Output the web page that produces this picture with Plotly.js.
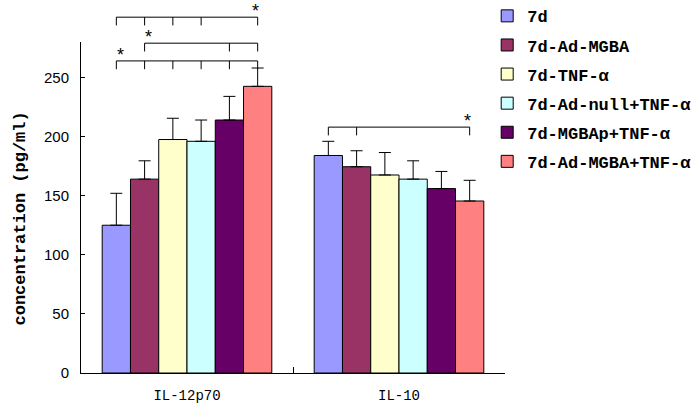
<!DOCTYPE html>
<html>
<head>
<meta charset="utf-8">
<script src="https://cdn.plot.ly/plotly-3.0.1.min.js"></script>
<style>html,body{margin:0;padding:0;background:#fff;}#chart{width:696px;height:406px;}</style>
</head>
<body>
<div id="chart"></div>
<script>
// ---- data ----
const categories = ["IL-12p70", "IL-10"];
const groups = ["7d", "7d-Ad-MGBA", "7d-TNF-α", "7d-Ad-null+TNF-α", "7d-MGBAp+TNF-α", "7d-Ad-MGBA+TNF-α"];
const colors = ["#9999FF", "#993366", "#FFFFCC", "#CCFFFF", "#660066", "#FF8080"];
// means per group: [IL-12p70, IL-10]
const means = [
  [125, 184],
  [164, 174.5],
  [197.5, 167.5],
  [196, 164],
  [214, 156],
  [242.5, 145.5]
];
// upper error (SD) per group
const errs = [
  [27, 12],
  [15.5, 13.5],
  [18, 19],
  [18, 15.5],
  [20, 14.5],
  [15.5, 17.5]
];
// significance brackets: category index, bar indices with ticks, level (data units), star side
const brackets = [
  {cat: 0, bars: [0, 1, 2, 3, 5], level: 301, star: "right"},
  {cat: 0, bars: [1, 4, 5], level: 279, star: "left"},
  {cat: 0, bars: [0, 1, 2, 3, 4, 5], level: 264, star: "left"},
  {cat: 1, bars: [0, 1, 5], level: 208, star: "right"}
];
const yMax = 280;

// ---- traces ----
const traces = groups.map((g, i) => ({
  type: "bar",
  name: g,
  x: categories,
  y: means[i],
  legendgroup: "g" + i,
  marker: {color: colors[i], line: {color: "#000", width: 1}},
  error_y: {type: "data", symmetric: false, array: errs[i], arrayminus: [0, 0], color: "#000", thickness: 1, width: 6},
  hoverinfo: "skip"
}));

// ---- brackets (shapes in paper coords) ----
const nBars = groups.length;
const groupWidth = 0.8;
function barCenter(cat, i) { return cat - groupWidth / 2 + groupWidth / nBars * (i + 0.5); }
function xp(x) { return (x + 0.5) / categories.length; }
function yp(v) { return v / yMax; }
const shapes = [];
const annotations = [];
const drop = 7;
brackets.forEach(b => {
  const xs = b.bars.map(i => xp(barCenter(b.cat, i)));
  const x0 = Math.min(...xs), x1 = Math.max(...xs);
  shapes.push({type: "line", xref: "paper", yref: "paper", x0: x0, x1: x1, y0: yp(b.level), y1: yp(b.level), line: {color: "#000", width: 1}});
  xs.forEach(x => shapes.push({type: "line", xref: "paper", yref: "paper", x0: x, x1: x, y0: yp(b.level), y1: yp(b.level - drop), line: {color: "#000", width: 1}}));
  annotations.push({xref: "paper", yref: "paper", x: b.star === "left" ? x0 : x1, y: yp(b.level), text: "*", showarrow: false,
    xanchor: "center", yanchor: "bottom", yshift: -6, xshift: b.star === "left" ? 4 : -2,
    font: {family: "Liberation Sans", size: 18, color: "#000"}});
});
annotations.push({xref: "paper", yref: "paper", x: -0.17, y: 0.468, text: "concentration (pg/ml)", textangle: -90, showarrow: false,
  font: {family: "Liberation Mono", size: 17, color: "#000", weight: "bold"}});

const layout = {
  width: 696, height: 406,
  margin: {l: 81, r: 191, t: 42, b: 33, autoexpand: false},
  paper_bgcolor: "#fff", plot_bgcolor: "#fff",
  barmode: "group", bargap: 0.2, bargroupgap: 0,
  showlegend: true,
  legend: {x: 0.958, xanchor: "left", y: 1.132, yanchor: "top", font: {family: "Liberation Mono", size: 17, color: "#000", weight: "bold"},
    traceorder: "grouped", tracegroupgap: 4, bgcolor: "rgba(0,0,0,0)"},
  xaxis: {type: "category", range: [-0.5, 1.5], showline: true, linecolor: "#000", linewidth: 1, ticks: "inside", tickson: "boundaries",
    ticklen: 6, tickcolor: "#000", showgrid: false, ticklabelstandoff: 9, tickfont: {family: "Liberation Mono", size: 14, color: "#000"}},
  yaxis: {range: [0, yMax], showline: true, linecolor: "#000", linewidth: 1, ticks: "inside", ticklen: 4, tickcolor: "#000",
    tickvals: [0, 50, 100, 150, 200, 250], showgrid: false, zeroline: false, ticklabelstandoff: 8,
    tickfont: {family: "Liberation Sans", size: 15, color: "#000"}},
  shapes: shapes,
  annotations: annotations
};
Plotly.newPlot("chart", traces, layout, {displayModeBar: false, staticPlot: true});
</script>
</body>
</html>
